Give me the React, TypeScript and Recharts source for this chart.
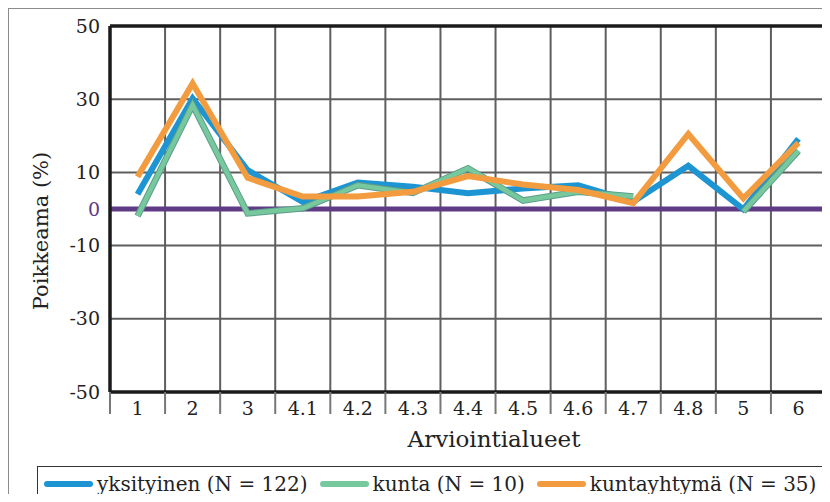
import React from 'react';
import {
  LineChart,
  Line,
  XAxis,
  YAxis,
  CartesianGrid,
  ReferenceLine,
  Legend,
} from 'recharts';

const categories = ['1', '2', '3', '4.1', '4.2', '4.3', '4.4', '4.5', '4.6', '4.7', '4.8', '5', '6'];
const yksityinen = [4.0, 30.2, 10.6, 1.9, 7.2, 6.1, 4.3, 5.6, 6.5, 2.0, 11.8, -0.1, 19.2];
const kunta = [-1.9, 28.4, -1.2, 0.2, 6.5, 4.4, 11.1, 2.3, 4.7, 3.4, null, -0.7, 15.9];
const kuntayhtyma = [8.8, 34.3, 8.5, 3.4, 3.4, 4.7, 9.0, 6.7, 5.2, 1.6, 20.5, 2.9, 18.1];
const yTicks = [-50, -30, -10, 0, 10, 30, 50];

const seriesNames = ['yksityinen (N = 122)', 'kunta (N = 10)', 'kuntayhtymä (N = 35)'];

// each category sits in the middle of its own unit-wide slot on a numeric axis
const data = categories.map((c, i) => ({
  x: i + 0.5,
  name: c,
  yksityinen: yksityinen[i],
  kunta: kunta[i],
  kuntayhtyma: kuntayhtyma[i],
}));
const xTicks = data.map((d) => d.x);
const xBounds = [0, ...categories.map((_, i) => i + 1)];

const FONT = '"DejaVu Serif", "Liberation Serif", serif';
const BLUE = '#1d95d3';
const GREEN = '#78c89e';
const GREEN_EDGE = '#5a9d8b';
const ORANGE = '#f29c3f';
const PURPLE = '#5f3b86';
const FRAME = '#1a1a1a';
const GRID = '#5e5e5e';

const CHART_W = 820;
const CHART_H = 493;
const MARGIN = { top: 17, right: 3, bottom: 60, left: 10 };
const Y_W = 91;
const PLOT_W = CHART_W - MARGIN.left - MARGIN.right - Y_W;
const BAND = PLOT_W / categories.length;

const YTick = (props: any) => {
  const { x, y, payload } = props;
  const zero = payload.value === 0;
  return (
    <text
      x={x}
      y={y}
      dy="0.35em"
      textAnchor="end"
      fontFamily={FONT}
      fontSize={19}
      fill={zero ? PURPLE : '#222'}
    >
      {payload.value}
    </text>
  );
};

const XTick = (props: any) => {
  const { x, y, payload, index } = props;
  const last = index === categories.length - 1;
  return (
    <g>
      <line x1={x - BAND / 2} x2={x - BAND / 2} y1={y} y2={y + 22} stroke="#777" strokeWidth={2} />
      {last && <line x1={x + BAND / 2} x2={x + BAND / 2} y1={y} y2={y + 22} stroke="#777" strokeWidth={2} />}
      <text x={x} y={y + 16} dy="0.35em" textAnchor="middle" fontFamily={FONT} fontSize={19} fill="#222">
        {categories[Math.floor(payload.value)]}
      </text>
    </g>
  );
};

const YTitle = (props: any) => {
  const { viewBox } = props;
  const cx = viewBox.x + 22;
  const cy = viewBox.y + viewBox.height / 2 + 22;
  return (
    <text
      x={cx}
      y={cy}
      transform={`rotate(-90 ${cx} ${cy})`}
      textAnchor="middle"
      dominantBaseline="central"
      fontFamily={FONT}
      fontSize={21}
      fill="#222"
    >
      Poikkeama (%)
    </text>
  );
};

const XTitle = (props: any) => {
  const { viewBox } = props;
  return (
    <text
      x={viewBox.x + viewBox.width / 2 + 26}
      y={viewBox.y + 47}
      textAnchor="middle"
      dominantBaseline="central"
      fontFamily={FONT}
      fontSize={23}
      fill="#222"
    >
      Arviointialueet
    </text>
  );
};

const legendColors = [BLUE, GREEN, ORANGE];

const LegendBox = () => (
  <div
    style={{
      boxSizing: 'border-box',
      border: '1px solid #333',
      height: 35,
      display: 'flex',
      alignItems: 'center',
      paddingLeft: 6,
      fontFamily: FONT,
      fontSize: 20,
      color: '#222',
      whiteSpace: 'nowrap',
    }}
  >
    {seriesNames.map((n, i) => (
      <div key={n} style={{ display: 'flex', alignItems: 'center', marginRight: 12 }}>
        <div style={{ width: 49, height: 6, borderRadius: 3, background: legendColors[i], marginRight: 4 }} />
        <span>{n}</span>
      </div>
    ))}
  </div>
);

export default function App() {
  return (
    // cancel the body margin so the page never overflows the 830x502 window
    <div style={{ position: 'relative', margin: -8, width: 830, height: 502, overflow: 'hidden', background: '#fff' }}>
      <div
        style={{
          position: 'absolute',
          left: 8,
          top: 8,
          width: 830,
          height: 502,
          borderTop: '1px solid #8c8c8c',
          borderLeft: '1px solid #8c8c8c',
        }}
      />
      <div style={{ position: 'absolute', left: 9, top: 9 }}>
        <LineChart width={CHART_W} height={CHART_H} data={data} margin={MARGIN}>
          <CartesianGrid stroke={GRID} strokeWidth={2} vertical={false} />
          {xBounds.map((b) => (
            <ReferenceLine key={`vb-${b}`} x={b} stroke={GRID} strokeWidth={2} />
          ))}
          <XAxis
            type="number"
            dataKey="x"
            domain={[0, categories.length]}
            ticks={xTicks}
            interval={0}
            height={50}
            tickSize={0}
            tickMargin={0}
            axisLine={false}
            tick={<XTick />}
            label={<XTitle />}
          />
          <YAxis
            width={Y_W}
            domain={[-50, 50]}
            ticks={yTicks}
            interval={0}
            tickSize={0}
            tickMargin={10}
            axisLine={false}
            tick={<YTick />}
            label={<YTitle />}
          />
          <ReferenceLine y={0} stroke={PURPLE} strokeWidth={5} />
          <ReferenceLine y={50} stroke={FRAME} strokeWidth={3.5} />
          <ReferenceLine y={-50} stroke={FRAME} strokeWidth={3.5} />
          <ReferenceLine x={0} stroke={FRAME} strokeWidth={3.5} />
          <ReferenceLine x={categories.length} stroke={FRAME} strokeWidth={3.5} />
          <Line
            type="linear"
            dataKey="yksityinen"
            name={seriesNames[0]}
            stroke={BLUE}
            strokeWidth={6}
            dot={false}
            isAnimationActive={false}
          />
          <Line
            type="linear"
            dataKey="kunta"
            name="kunta-edge"
            stroke={GREEN_EDGE}
            strokeWidth={6.5}
            dot={false}
            legendType="none"
            isAnimationActive={false}
          />
          <Line
            type="linear"
            dataKey="kunta"
            name={seriesNames[1]}
            stroke={GREEN}
            strokeWidth={4.5}
            dot={false}
            isAnimationActive={false}
          />
          <Line
            type="linear"
            dataKey="kuntayhtyma"
            name={seriesNames[2]}
            stroke={ORANGE}
            strokeWidth={6}
            dot={false}
            isAnimationActive={false}
          />
          <Legend
            layout="horizontal"
            verticalAlign="middle"
            align="center"
            content={<LegendBox />}
            wrapperStyle={{ top: 457, left: 28, width: 790 }}
          />
        </LineChart>
      </div>
    </div>
  );
}
